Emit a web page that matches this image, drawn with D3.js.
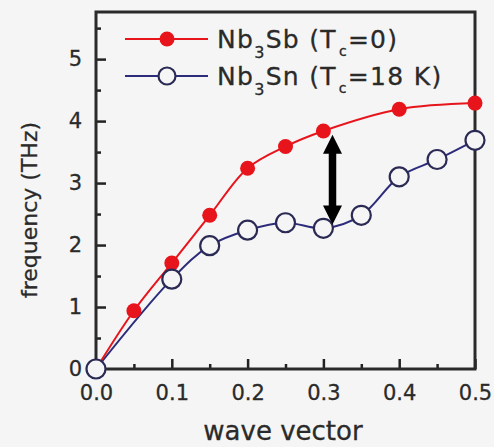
<!DOCTYPE html>
<html>
<head>
<meta charset="utf-8">
<script src="https://cdn.jsdelivr.net/npm/d3@7"></script>
<style>
  body { margin: 0; background: #f5f5f5; }
  svg { display: block; font-family: "DejaVu Sans", Verdana, sans-serif; }
</style>
</head>
<body>
<div id="chart"></div>
<script>
// values
const sbWave = [0, 0.05, 0.1, 0.15, 0.2, 0.25, 0.3, 0.4, 0.5];
const sbFreq = [0, 0.94, 1.71, 2.48, 3.24, 3.59, 3.84, 4.19, 4.29];
const snWave = [0, 0.1, 0.15, 0.2, 0.25, 0.3, 0.35, 0.4, 0.45, 0.5];
const snFreq = [0, 1.45, 1.99, 2.24, 2.36, 2.27, 2.48, 3.1, 3.38, 3.69];
const xTicks = [0, 0.1, 0.2, 0.3, 0.4, 0.5];
const xMinor = [0.05, 0.15, 0.25, 0.35, 0.45];
const yTicks = [0, 1, 2, 3, 4, 5];
const yMinor = [0.5, 1.5, 2.5, 3.5, 4.5, 5.5];
const arrowX = 0.312, arrowTop = 3.78, arrowBottom = 2.33;

const width = 494, height = 447;
const margin = { left: 96, right: 19, top: 12, bottom: 78 };
const font = "'DejaVu Sans', Verdana, sans-serif";

const svg = d3.select("#chart").append("svg")
  .attr("width", width)
  .attr("height", height);

svg.append("rect").attr("width", width).attr("height", height).attr("fill", "#f5f5f5");

const x = d3.scaleLinear().domain([0, 0.5]).range([margin.left, width - margin.right]);
const y = d3.scaleLinear().domain([0, 5.76]).range([height - margin.bottom, margin.top]);

// ticks pointing inward
const bottomAxis = svg.append("g").attr("transform", `translate(0,${y(0)})`);
bottomAxis.call(d3.axisBottom(x).tickValues(xTicks).tickFormat(d3.format(".1f")).tickSizeInner(-10).tickSizeOuter(0).tickPadding(16));
bottomAxis.append("g").call(d3.axisBottom(x).tickValues(xMinor).tickFormat("").tickSizeInner(-5).tickSizeOuter(0));

const leftAxis = svg.append("g").attr("transform", `translate(${x(0)},0)`);
leftAxis.call(d3.axisLeft(y).tickValues(yTicks).tickFormat(d3.format("d")).tickSizeInner(-10).tickSizeOuter(0).tickPadding(14));
leftAxis.append("g").call(d3.axisLeft(y).tickValues(yMinor).tickFormat("").tickSizeInner(-5).tickSizeOuter(0));

svg.selectAll(".domain").remove();
svg.selectAll(".tick line").attr("stroke", "#222").attr("stroke-width", 2.5);
svg.selectAll(".tick text").attr("font-size", 21).attr("fill", "#2a2a2a")
  .attr("stroke", "#2a2a2a").attr("stroke-width", 0.3)
  .attr("font-family", font);

// frame
svg.append("rect")
  .attr("x", x(0)).attr("y", margin.top)
  .attr("width", x(0.5) - x(0)).attr("height", y(0) - margin.top)
  .attr("fill", "none").attr("stroke", "#2a2a2a").attr("stroke-width", 3);

// axis titles
svg.append("text")
  .attr("x", 283).attr("y", 440)
  .attr("text-anchor", "middle").attr("font-size", 26).attr("fill", "#2a2a2a")
  .attr("stroke", "#2a2a2a").attr("stroke-width", 0.3)
  .text("wave vector");
svg.append("text")
  .attr("transform", "translate(37,210) rotate(-90)")
  .attr("text-anchor", "middle").attr("font-size", 22).attr("fill", "#2a2a2a")
  .attr("stroke", "#2a2a2a").attr("stroke-width", 0.3)
  .text("frequency (THz)");

const red = "#e8141c", navy = "#2c2c7a";

const sb = sbWave.map((w, i) => [w, sbFreq[i]]);
const sn = snWave.map((w, i) => [w, snFreq[i]]);

svg.append("path").datum(sn)
  .attr("fill", "none").attr("stroke", navy).attr("stroke-width", 2)
  .attr("d", d3.line().x(d => x(d[0])).y(d => y(d[1])).curve(d3.curveCatmullRom));
svg.append("path").datum(sb)
  .attr("fill", "none").attr("stroke", red).attr("stroke-width", 2)
  .attr("d", d3.line().x(d => x(d[0])).y(d => y(d[1])).curve(d3.curveCatmullRom));

svg.selectAll(".sb").data(sb.slice(1)).join("circle")
  .attr("cx", d => x(d[0])).attr("cy", d => y(d[1])).attr("r", 7.5)
  .attr("fill", red);

svg.selectAll(".sn").data(sn).join("circle")
  .attr("cx", d => x(d[0])).attr("cy", d => y(d[1])).attr("r", 9.5)
  .attr("fill", "#f5f5f5").attr("stroke", "#2a2a55").attr("stroke-width", 2.2);

// double headed arrow
const ax = x(arrowX), aTop = y(arrowTop), aBot = y(arrowBottom);
svg.append("line")
  .attr("x1", ax).attr("x2", ax).attr("y1", aTop + 14).attr("y2", aBot - 14)
  .attr("stroke", "#000").attr("stroke-width", 7.5);
svg.append("path")
  .attr("d", `M${ax},${aTop} L${ax - 9.5},${aTop + 19} L${ax + 9.5},${aTop + 19} Z`)
  .attr("fill", "#000");
svg.append("path")
  .attr("d", `M${ax},${aBot} L${ax - 9.5},${aBot - 19} L${ax + 9.5},${aBot - 19} Z`)
  .attr("fill", "#000");

// legend
const legend = svg.append("g");
const rows = [
  { y: 39, color: red, filled: true, name: "Sb", tc: "=0)" },
  { y: 76, color: navy, filled: false, name: "Sn", tc: "=18 K)" }
];
rows.forEach(r => {
  legend.append("line").attr("x1", 125).attr("x2", 208).attr("y1", r.y).attr("y2", r.y)
    .attr("stroke", r.color).attr("stroke-width", 2);
  if (r.filled) {
    legend.append("circle").attr("cx", 167).attr("cy", r.y).attr("r", 7.5).attr("fill", red);
  } else {
    legend.append("circle").attr("cx", 167).attr("cy", r.y).attr("r", 8.5)
      .attr("fill", "#f5f5f5").attr("stroke", "#2a2a55").attr("stroke-width", 2.2);
  }
  const t = legend.append("text").attr("x", 217).attr("y", r.y + 9)
    .attr("font-size", 25).attr("fill", "#2a2a2a")
    .attr("stroke", "#2a2a2a").attr("stroke-width", 0.3)
    .attr("letter-spacing", 1.3);
  t.append("tspan").text("Nb");
  t.append("tspan").attr("dy", 10).attr("font-size", 16).text("3");
  t.append("tspan").attr("dy", -10).text(r.name + " (T");
  t.append("tspan").attr("dy", 8).attr("dx", 2).attr("font-size", 14).text("c");
  t.append("tspan").attr("dy", -8).text(r.tc);
});
</script>
</body>
</html>
